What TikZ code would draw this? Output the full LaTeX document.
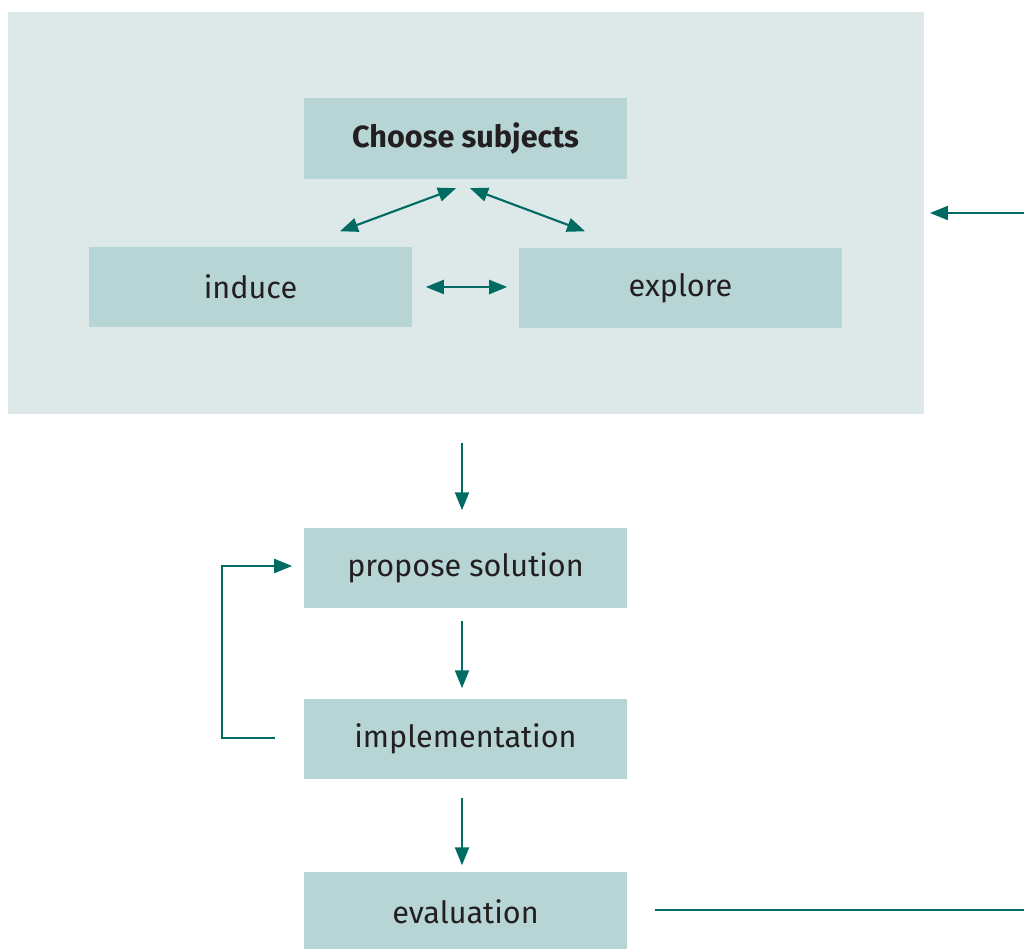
\documentclass[tikz,border=0pt]{standalone}
\usepackage{fontspec}
\setmainfont{Fira Sans}
\usetikzlibrary{arrows.meta}
\definecolor{panelbg}{HTML}{DCE9E8}
\definecolor{boxbg}{HTML}{B7D5D5}
\definecolor{arrowteal}{HTML}{006B63}
\definecolor{inkgray}{HTML}{231F20}

\begin{document}
\begin{tikzpicture}[x=0.01cm,y=-0.01cm,
	every node/.style={text=inkgray,font=\fontsize{8.7}{10}\selectfont},
	stagebox/.style={fill=boxbg,minimum width=3.23cm,minimum height=0.80cm,inner sep=0pt},
	flow/.style={draw=arrowteal,line width=0.6pt,-{Triangle[length=0.18cm,width=0.14cm]}},
	twoway/.style={flow,{Triangle[length=0.18cm,width=0.14cm]}-{Triangle[length=0.18cm,width=0.14cm]}}]
	\useasboundingbox (0,0) rectangle (1024,949);
	% shaded group
	\node[fill=panelbg,minimum width=9.16cm,minimum height=4.02cm,inner sep=0pt] (group) at (466,213) {};
	\node[stagebox,font=\fontsize{8.7}{10}\selectfont\bfseries] (choose) at (465.5,138.5) {Choose subjects};
	\node[stagebox] (induce) at (250.5,287) {induce};
	\node[stagebox] (explore) at (680.5,288) {explore};
	% lower chain
	\node[stagebox] (propose) at (465.5,568) {propose solution};
	\node[stagebox] (impl) at (465.5,739) {implementation};
	\node[stagebox] (eval) at (465.5,912) {evaluation};
	\coordinate (backin) at (1024,213);
	\coordinate (backout) at (1024,910);
	% connectors
	\draw[twoway] ([shift={(-9.5,9)}]choose.south) -- ([shift={(89.5,-15)}]induce.north);
	\draw[twoway] ([shift={(4.5,9)}]choose.south) -- ([shift={(-95.5,-16)}]explore.north);
	\draw[twoway] ([shift={(13,0)}]induce.east) -- ([shift={(-11,-1)}]explore.west);
	\draw[flow] (backin) -- ([shift={(5,0)}]group.east);
	\draw[flow] ([shift={(-4,28)}]group.south) -- ([shift={(-3.5,-17)}]propose.north);
	\draw[flow] ([shift={(-3.5,12)}]propose.south) -- ([shift={(-3.5,-10)}]impl.north);
	\draw[flow] ([shift={(-3.5,18)}]impl.south) -- ([shift={(-3.5,-6)}]eval.north);
	\draw[flow] ([shift={(-28,-1)}]impl.west) -- ++(-53,0) |- ([shift={(-11,-2)}]propose.west);
	\draw[draw=arrowteal,line width=0.6pt] ([shift={(27,-2)}]eval.east) -- (backout);
\end{tikzpicture}
\end{document}
